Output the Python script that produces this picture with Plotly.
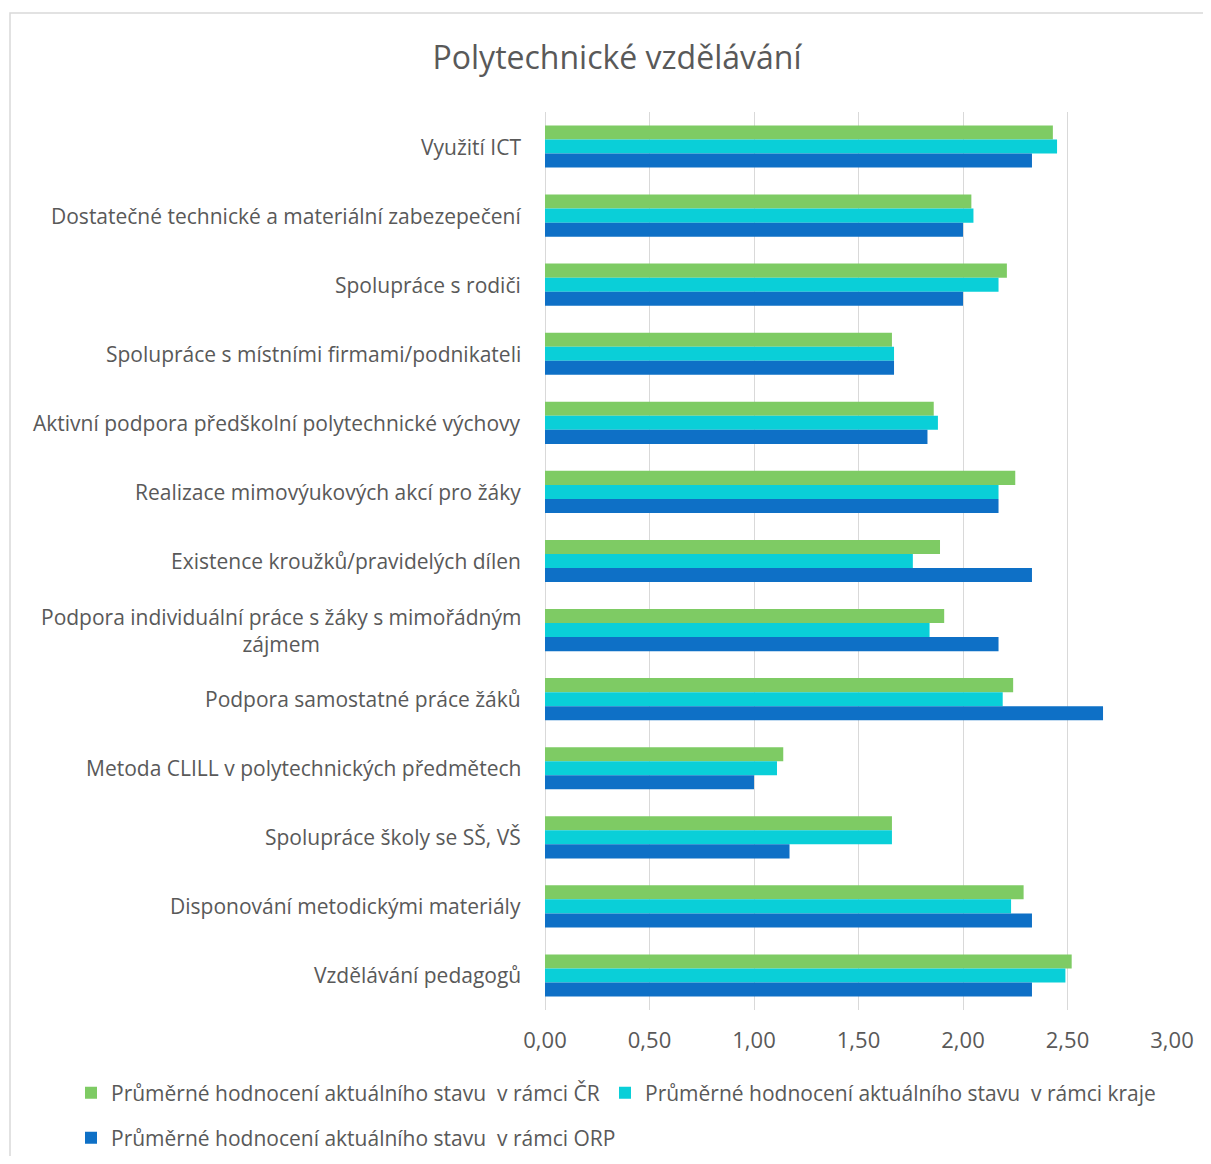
import plotly.graph_objects as go

CATEGORIES = [
    "Využití ICT",
    "Dostatečné technické a materiální zabezepečení",
    "Spolupráce s rodiči",
    "Spolupráce s místními firmami/podnikateli",
    "Aktivní podpora předškolní polytechnické výchovy",
    "Realizace mimovýukových akcí pro žáky",
    "Existence kroužků/pravidelých dílen",
    "Podpora individuální práce s žáky s mimořádným<br>zájmem",
    "Podpora samostatné práce žáků",
    "Metoda CLILL v polytechnických předmětech",
    "Spolupráce školy se SŠ, VŠ",
    "Disponování metodickými materiály",
    "Vzdělávání pedagogů",
]

SERIES_NAMES = [
    "Průměrné hodnocení aktuálního stavu  v rámci ČR",
    "Průměrné hodnocení aktuálního stavu  v rámci kraje",
    "Průměrné hodnocení aktuálního stavu  v rámci ORP",
]

CR = [2.43, 2.04, 2.21, 1.66, 1.86, 2.25, 1.89, 1.91, 2.24, 1.14, 1.66, 2.29, 2.52]
KRAJ = [2.45, 2.05, 2.17, 1.67, 1.88, 2.17, 1.76, 1.84, 2.19, 1.11, 1.66, 2.23, 2.49]
ORP = [2.33, 2.00, 2.00, 1.67, 1.83, 2.17, 2.33, 2.17, 2.67, 1.00, 1.17, 2.33, 2.33]

COLORS = ["#7ECB64", "#0ACFD8", "#0E70C6"]
TEXT = "#595959"
GRID = "#D9D9D9"
FONT = "Open Sans"

# figure geometry (page body adds 8px offset)
W, H = 1195, 1148
ML, MT, PW, PH = 537, 104, 627, 898

fig = go.Figure()
# one legend per series so the entries can sit where Excel put them
for name, vals, col, leg in zip(SERIES_NAMES, [CR, KRAJ, ORP], COLORS,
                                ["legend", "legend2", "legend3"]):
    fig.add_trace(go.Bar(y=CATEGORIES, x=vals, name=name, orientation="h",
                         legend=leg, showlegend=True,
                         marker=dict(color=col, line=dict(width=0))))

# category labels as annotations so the wrapped one is centred like in Excel
annotations = [
    dict(x=0, xref="paper", y=c, yref="y", text=c, showarrow=False,
         xanchor="right", xshift=-22, align="center",
         font=dict(family=FONT, size=21, color=TEXT))
    for c in CATEGORIES
]

legend_common = dict(orientation="h", xanchor="left", yanchor="middle",
                     font=dict(family=FONT, size=21, color=TEXT),
                     bgcolor="rgba(0,0,0,0)")
row1 = (MT + PH - 1085) / PH
row2 = (MT + PH - 1130) / PH

fig.update_layout(
    width=W, height=H,
    showlegend=True,
    margin=dict(l=ML, r=W - ML - PW, t=MT, b=H - MT - PH, autoexpand=False),
    paper_bgcolor="white", plot_bgcolor="white",
    separators=", ",
    barmode="group", bargap=0.39, bargroupgap=0,
    title=dict(text="Polytechnické vzdělávání", x=609 / W, xanchor="center",
               y=1 - 50 / H, yanchor="middle",
               font=dict(family=FONT, size=32, color=TEXT)),
    font=dict(family=FONT, size=21, color=TEXT),
    xaxis=dict(range=[0, 3], dtick=0.5, tickformat=".2f",
               showgrid=True, gridcolor=GRID, gridwidth=1,
               zeroline=True, zerolinecolor=GRID, zerolinewidth=1,
               showline=False, ticks="", ticklabelstandoff=15,
               tickfont=dict(family=FONT, size=22, color=TEXT)),
    yaxis=dict(autorange="reversed", showticklabels=False, showgrid=False,
               ticks=""),
    legend=dict(legend_common, x=(63 - ML) / PW, y=row1),
    legend2=dict(legend_common, x=(597 - ML) / PW, y=row1),
    legend3=dict(legend_common, x=(63 - ML) / PW, y=row2),
    annotations=annotations,
    shapes=[dict(type="rect", xref="paper", yref="paper",
                 x0=(2 - ML) / PW, x1=(1230 - ML) / PW,
                 y0=(MT + PH - 1220) / PH, y1=(MT + PH - 5) / PH,
                 line=dict(color=GRID, width=1.5), fillcolor="rgba(0,0,0,0)",
                 layer="below")],
)

fig.write_html("out.html")
